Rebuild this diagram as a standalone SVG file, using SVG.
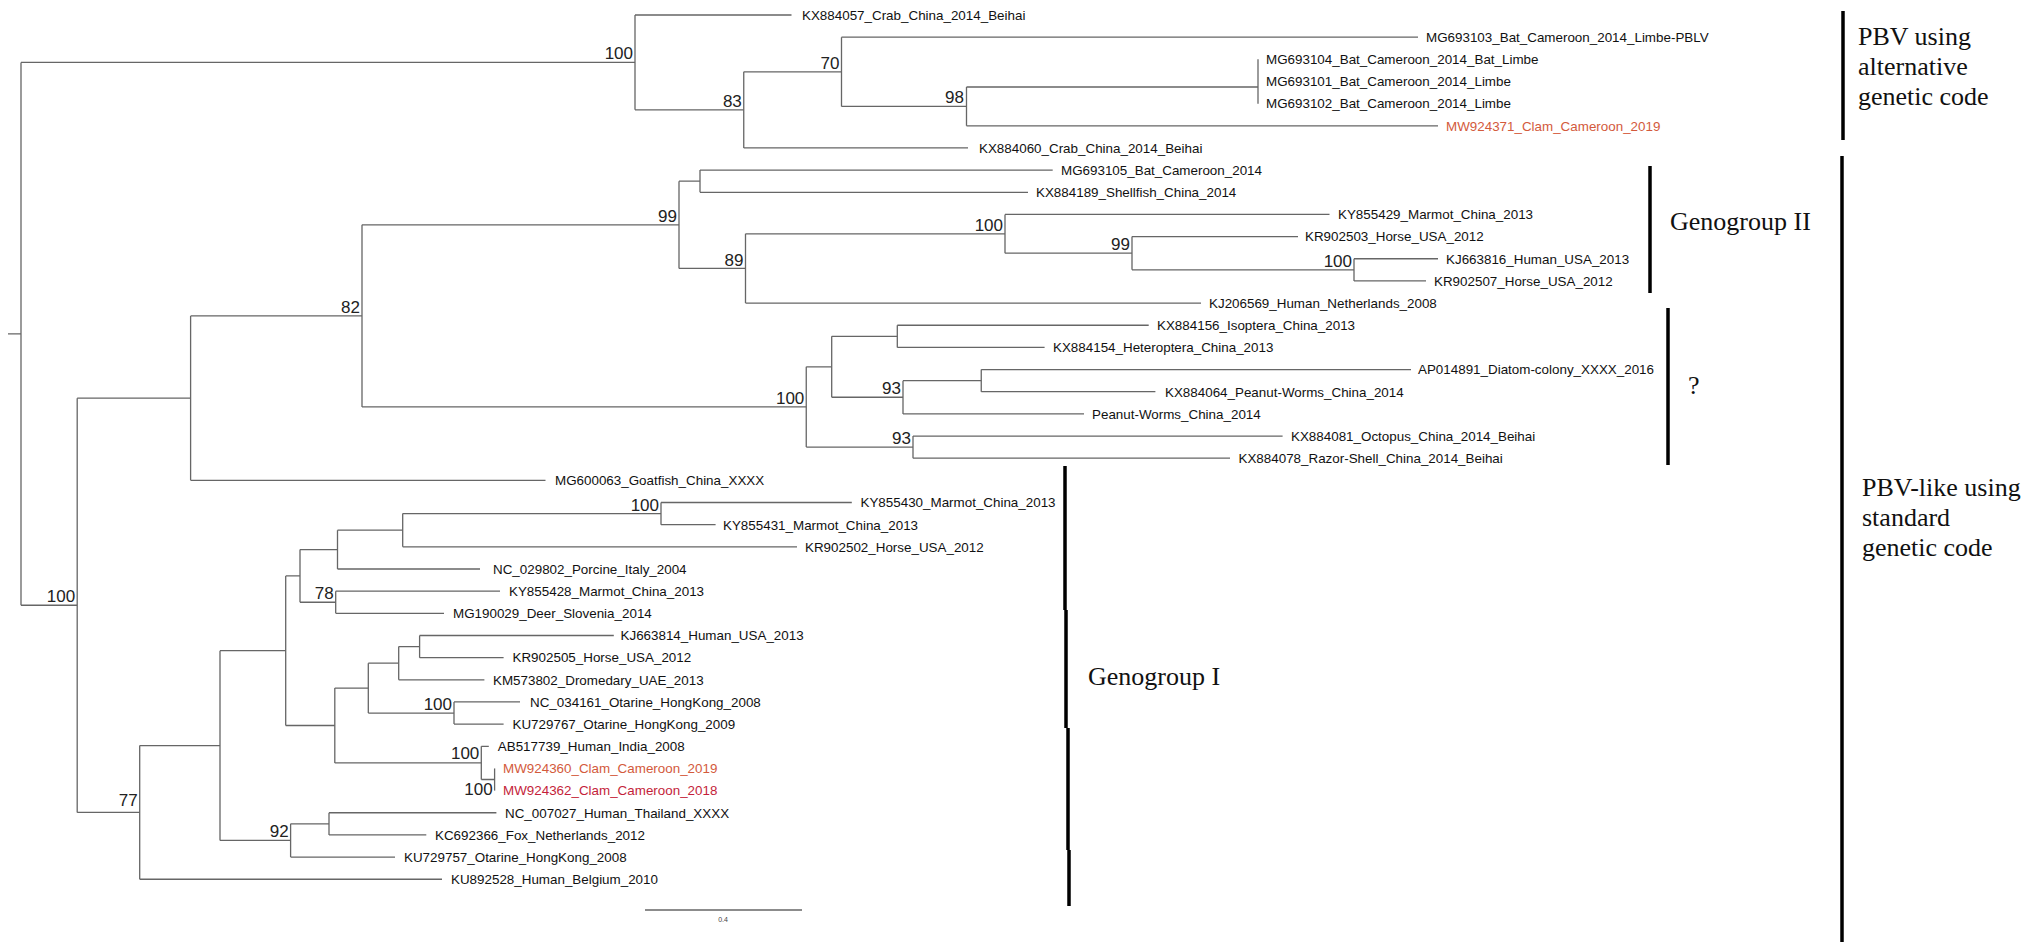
<svg xmlns="http://www.w3.org/2000/svg" width="2032" height="949" viewBox="0 0 2032 949">
<style>
.br{fill:none;stroke:#666;stroke-width:1.3}
.tip{font-family:"Liberation Sans",Arial,sans-serif;font-size:13.4px;fill:#111}
.sup{font-family:"Liberation Sans",Arial,sans-serif;font-size:17px;fill:#222;text-anchor:end}
.grp{font-family:"Liberation Serif","Times New Roman",serif;font-size:26px;fill:#111}
.bar{fill:none;stroke:#000;stroke-width:3.5}
.red1{fill:#d35a3c}
.red2{fill:#c41e3a}
</style>
<rect width="2032" height="949" fill="#fff"/>
<g id="connectors">
<path class="br" d="M8,333.8H21M21,62.4V605.27M21,62.4H635M21,605.27H77.2"/>
<path class="br" d="M635,15V109.87M635,15H791.5M635,109.87H743.75"/>
<path class="br" d="M743.75,71.78V147.96M743.75,71.78H841.5M743.75,147.96H968"/>
<path class="br" d="M841.5,37.16V106.4M841.5,37.16H1418M841.5,106.4H966.5"/>
<path class="br" d="M966.5,87V125.8M966.5,87H1258M966.5,125.8H1438"/>
<path class="br" d="M1258,59.32V103.64"/>
<path class="br" d="M77.2,398.13V812.4M77.2,398.13H190.6M77.2,812.4H139.7"/>
<path class="br" d="M190.6,315.9V480.36M190.6,315.9H362M190.6,480.36H545.5"/>
<path class="br" d="M362,224.83V406.96M362,224.83H679M362,406.96H806.25"/>
<path class="br" d="M679,181.2V268.46M679,181.2H700M679,268.46H745.5"/>
<path class="br" d="M700,170.12V192.28M700,170.12H1052.7M700,192.28H1028"/>
<path class="br" d="M745.5,233.83V303.08M745.5,233.83H1005M745.5,303.08H1201"/>
<path class="br" d="M1005,214.44V253.22M1005,214.44H1329.5M1005,253.22H1132"/>
<path class="br" d="M1132,236.6V269.84M1132,236.6H1298M1132,269.84H1354"/>
<path class="br" d="M1354,258.76V280.92M1354,258.76H1438M1354,280.92H1426"/>
<path class="br" d="M806.25,366.79V447.12M806.25,366.79H831.7M806.25,447.12H913"/>
<path class="br" d="M831.7,336.32V397.26M831.7,336.32H897.3M831.7,397.26H903"/>
<path class="br" d="M897.3,325.24V347.4M897.3,325.24H1148.7M897.3,347.4H1044.6"/>
<path class="br" d="M903,380.64V413.88M903,380.64H981.25M903,413.88H1084"/>
<path class="br" d="M981.25,369.56V391.72M981.25,369.56H1411M981.25,391.72H1155.4"/>
<path class="br" d="M913,436.04V458.2M913,436.04H1282.6M913,458.2H1230"/>
<path class="br" d="M139.7,745.59V879.24M139.7,745.59H220M139.7,879.24H442"/>
<path class="br" d="M220,650.72V840.46M220,650.72H285.7M220,840.46H290.6"/>
<path class="br" d="M285.7,575.93V725.5M285.7,575.93H300M285.7,725.5H334.8"/>
<path class="br" d="M300,549.61V602.24M300,549.61H337.5M300,602.24H335.7"/>
<path class="br" d="M337.5,530.22V569M337.5,530.22H402.7M337.5,569H480"/>
<path class="br" d="M402.7,513.6V546.84M402.7,513.6H661M402.7,546.84H797"/>
<path class="br" d="M661,502.52V524.68M661,502.52H851.8M661,524.68H715.6"/>
<path class="br" d="M335.7,591.16V613.32M335.7,591.16H500M335.7,613.32H444"/>
<path class="br" d="M334.8,688.11V762.9M334.8,688.11H368.3M334.8,762.9H481.3"/>
<path class="br" d="M368.3,663.18V713.04M368.3,663.18H398.7M368.3,713.04H454"/>
<path class="br" d="M398.7,646.56V679.8M398.7,646.56H419.6M398.7,679.8H484.4"/>
<path class="br" d="M419.6,635.48V657.64M419.6,635.48H613.8M419.6,657.64H503.6"/>
<path class="br" d="M454,701.96V724.12M454,701.96H520M454,724.12H503.6"/>
<path class="br" d="M481.3,746.28V779.52M481.3,746.28H488.8M481.3,779.52H494.6"/>
<path class="br" d="M494.6,768.44V790.6"/>
<path class="br" d="M290.6,823.84V857.08M290.6,823.84H329M290.6,857.08H395"/>
<path class="br" d="M329,812.76V834.92M329,812.76H496.4M329,834.92H426.3"/>
<path class="br" d="M645,910H802"/>
</g>
<g id="support-values">
<text class="sup" x="633" y="59.4">100</text>
<text class="sup" x="839.5" y="68.8">70</text>
<text class="sup" x="741.8" y="106.9">83</text>
<text class="sup" x="964" y="103">98</text>
<text class="sup" x="677" y="221.8">99</text>
<text class="sup" x="743.5" y="265.5">89</text>
<text class="sup" x="1003" y="230.8">100</text>
<text class="sup" x="1130" y="250.2">99</text>
<text class="sup" x="1352" y="266.8">100</text>
<text class="sup" x="360" y="312.9">82</text>
<text class="sup" x="804.3" y="404">100</text>
<text class="sup" x="901" y="394.3">93</text>
<text class="sup" x="911" y="444.1">93</text>
<text class="sup" x="75.2" y="602.3">100</text>
<text class="sup" x="659" y="510.6">100</text>
<text class="sup" x="333.7" y="599.2">78</text>
<text class="sup" x="137.7" y="806">77</text>
<text class="sup" x="288.6" y="836.7">92</text>
<text class="sup" x="452" y="709.5">100</text>
<text class="sup" x="479.3" y="759.3">100</text>
<text class="sup" x="492.6" y="795">100</text>
</g>
<g id="tips">
<g id="t0"><text class="tip" x="802" y="19.8">KX884057_Crab_China_2014_Beihai</text></g>
<g id="t1"><text class="tip" x="1426" y="42">MG693103_Bat_Cameroon_2014_Limbe-PBLV</text></g>
<g id="t2"><text class="tip" x="1266" y="64.1">MG693104_Bat_Cameroon_2014_Bat_Limbe</text></g>
<g id="t3"><text class="tip" x="1266" y="86.3">MG693101_Bat_Cameroon_2014_Limbe</text></g>
<g id="t4"><text class="tip" x="1266" y="108.4">MG693102_Bat_Cameroon_2014_Limbe</text></g>
<g id="t5"><text class="tip red1" x="1446" y="130.6">MW924371_Clam_Cameroon_2019</text></g>
<g id="t6"><text class="tip" x="979" y="152.8">KX884060_Crab_China_2014_Beihai</text></g>
<g id="t7"><text class="tip" x="1061" y="174.9">MG693105_Bat_Cameroon_2014</text></g>
<g id="t8"><text class="tip" x="1036" y="197.1">KX884189_Shellfish_China_2014</text></g>
<g id="t9"><text class="tip" x="1338" y="219.2">KY855429_Marmot_China_2013</text></g>
<g id="t10"><text class="tip" x="1305" y="241.4">KR902503_Horse_USA_2012</text></g>
<g id="t11"><text class="tip" x="1446" y="263.6">KJ663816_Human_USA_2013</text></g>
<g id="t12"><text class="tip" x="1434" y="285.7">KR902507_Horse_USA_2012</text></g>
<g id="t13"><text class="tip" x="1209" y="307.9">KJ206569_Human_Netherlands_2008</text></g>
<g id="t14"><text class="tip" x="1157" y="330">KX884156_Isoptera_China_2013</text></g>
<g id="t15"><text class="tip" x="1053" y="352.2">KX884154_Heteroptera_China_2013</text></g>
<g id="t16"><text class="tip" x="1418" y="374.4">AP014891_Diatom-colony_XXXX_2016</text></g>
<g id="t17"><text class="tip" x="1165" y="396.5">KX884064_Peanut-Worms_China_2014</text></g>
<g id="t18"><text class="tip" x="1092" y="418.7">Peanut-Worms_China_2014</text></g>
<g id="t19"><text class="tip" x="1291" y="440.8">KX884081_Octopus_China_2014_Beihai</text></g>
<g id="t20"><text class="tip" x="1238.5" y="463">KX884078_Razor-Shell_China_2014_Beihai</text></g>
<g id="t21"><text class="tip" x="555" y="485.2">MG600063_Goatfish_China_XXXX</text></g>
<g id="t22"><text class="tip" x="860.5" y="507.3">KY855430_Marmot_China_2013</text></g>
<g id="t23"><text class="tip" x="723" y="529.5">KY855431_Marmot_China_2013</text></g>
<g id="t24"><text class="tip" x="805" y="551.6">KR902502_Horse_USA_2012</text></g>
<g id="t25"><text class="tip" x="493" y="573.8">NC_029802_Porcine_Italy_2004</text></g>
<g id="t26"><text class="tip" x="509" y="596">KY855428_Marmot_China_2013</text></g>
<g id="t27"><text class="tip" x="453" y="618.1">MG190029_Deer_Slovenia_2014</text></g>
<g id="t28"><text class="tip" x="620.5" y="640.3">KJ663814_Human_USA_2013</text></g>
<g id="t29"><text class="tip" x="512.5" y="662.4">KR902505_Horse_USA_2012</text></g>
<g id="t30"><text class="tip" x="493" y="684.6">KM573802_Dromedary_UAE_2013</text></g>
<g id="t31"><text class="tip" x="530" y="706.8">NC_034161_Otarine_HongKong_2008</text></g>
<g id="t32"><text class="tip" x="512.5" y="728.9">KU729767_Otarine_HongKong_2009</text></g>
<g id="t33"><text class="tip" x="497.8" y="751.1">AB517739_Human_India_2008</text></g>
<g id="t34"><text class="tip red1" x="503" y="773.2">MW924360_Clam_Cameroon_2019</text></g>
<g id="t35"><text class="tip red2" x="503" y="795.4">MW924362_Clam_Cameroon_2018</text></g>
<g id="t36"><text class="tip" x="505" y="817.6">NC_007027_Human_Thailand_XXXX</text></g>
<g id="t37"><text class="tip" x="435" y="839.7">KC692366_Fox_Netherlands_2012</text></g>
<g id="t38"><text class="tip" x="404" y="861.9">KU729757_Otarine_HongKong_2008</text></g>
<g id="t39"><text class="tip" x="451" y="884">KU892528_Human_Belgium_2010</text></g>
</g>
<g id="scale"><text x="723" y="922" font-family="Liberation Sans, Arial, sans-serif" font-size="7" fill="#444" text-anchor="middle">0.4</text></g>
<g id="clade-pbv">
<path class="bar" d="M1843,11V140"/>
<text class="grp" x="1858" y="45">PBV using</text>
<text class="grp" x="1858" y="75">alternative</text>
<text class="grp" x="1858" y="105">genetic code</text>
</g>
<g id="clade-g2">
<path class="bar" d="M1650,166V293"/>
<text class="grp" x="1670" y="230">Genogroup II</text>
</g>
<g id="clade-q">
<path class="bar" d="M1668,308V465"/>
<text class="grp" x="1688" y="394">?</text>
</g>
<g id="clade-g1">
<path class="bar" d="M1065,466V610M1066,610V728M1068,728V850M1069,850V906"/>
<text class="grp" x="1088" y="685">Genogroup I</text>
</g>
<g id="clade-pbvlike">
<path class="bar" d="M1842,156V942"/>
<text class="grp" x="1862" y="496">PBV-like using</text>
<text class="grp" x="1862" y="526">standard</text>
<text class="grp" x="1862" y="556">genetic code</text>
</g>
</svg>
